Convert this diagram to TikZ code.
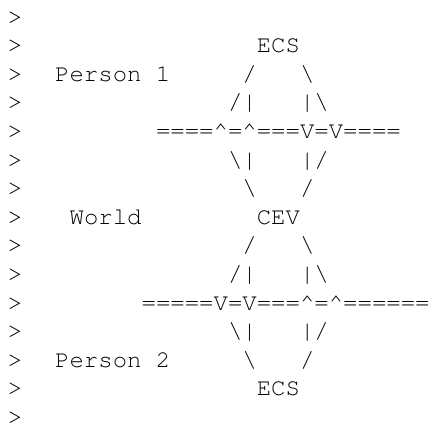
\documentclass[tikz,border=0pt]{standalone}
\usepackage[T1]{fontenc}
\usepackage{courier}

\begin{document}
\begin{tikzpicture}[x=14.4pt,y=-28.6pt,
  ascii/.style={font=\ttfamily\fontsize{24}{28.6}\selectfont,anchor=base west,inner sep=0pt,outer sep=0pt},
  quote/.style={ascii,anchor=base}]
  \useasboundingbox (0pt,0pt) rectangle (434pt,-431pt);
  \begin{scope}[shift={(12pt,-24pt)}]
  % quote marks
  \foreach \r in {0,...,14}
    \node[quote] (gt\r) at (0.22,\r) {>};
  % person 1
  \node[ascii] (ecs1) at (17,1) {ECS};
  \node[ascii] (person1) at (3,2) {Person 1};
  \node[ascii] (up1l) at (16,2) {/};
  \node[ascii] (up1r) at (20,2) {\textbackslash};
  \node[ascii] (leg1l) at (15,3) {/|};
  \node[ascii] (leg1r) at (20,3) {|\textbackslash};
  \node[ascii] (bar1) at (10,4) {====\textasciicircum=\textasciicircum===V=V====};
  \node[ascii] (low1l) at (15,5) {\textbackslash|};
  \node[ascii] (low1r) at (20,5) {|/};
  \node[ascii] (dn1l) at (16,6) {\textbackslash};
  \node[ascii] (dn1r) at (20,6) {/};
  % world
  \node[ascii] (world) at (4,7) {World};
  \node[ascii] (cev) at (17,7) {CEV};
  % person 2
  \node[ascii] (up2l) at (16,8) {/};
  \node[ascii] (up2r) at (20,8) {\textbackslash};
  \node[ascii] (leg2l) at (15,9) {/|};
  \node[ascii] (leg2r) at (20,9) {|\textbackslash};
  \node[ascii] (bar2) at (9,10) {=====V=V===\textasciicircum=\textasciicircum======};
  \node[ascii] (low2l) at (15,11) {\textbackslash|};
  \node[ascii] (low2r) at (20,11) {|/};
  \node[ascii] (person2) at (3,12) {Person 2};
  \node[ascii] (dn2l) at (16,12) {\textbackslash};
  \node[ascii] (dn2r) at (20,12) {/};
  \node[ascii] (ecs2) at (17,13) {ECS};
  \end{scope}
\end{tikzpicture}
\end{document}
